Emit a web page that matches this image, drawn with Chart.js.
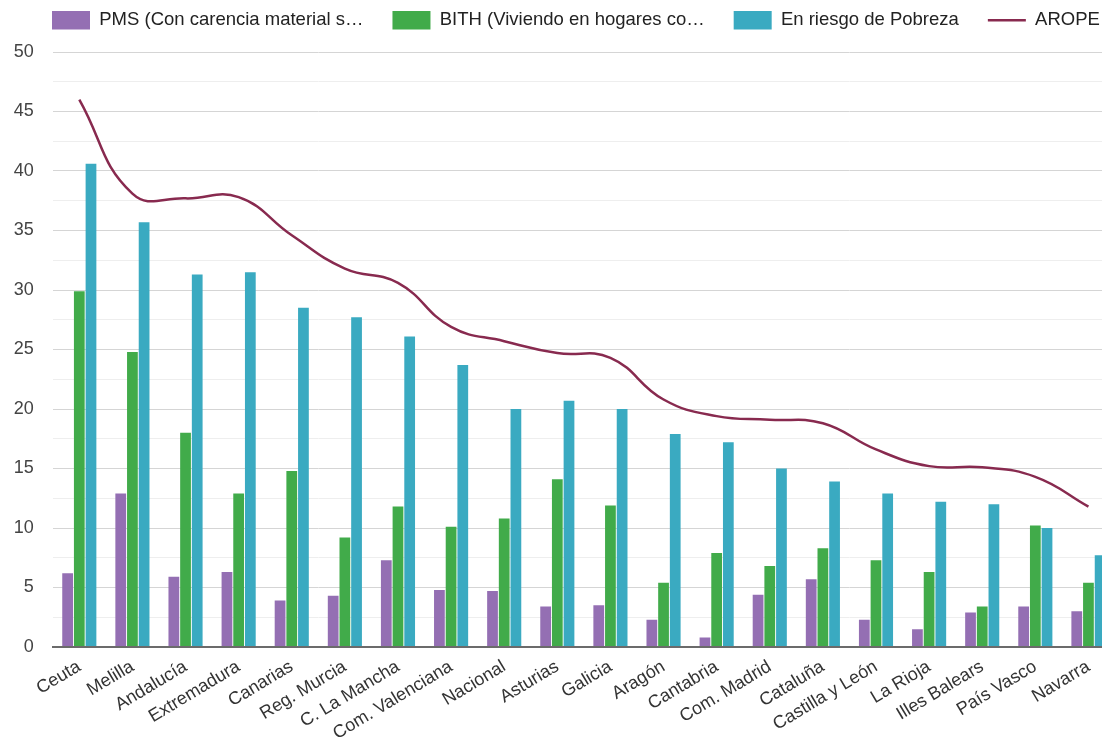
<!DOCTYPE html>
<html>
<head>
<meta charset="utf-8">
<script src="https://cdn.jsdelivr.net/npm/chart.js@4/dist/chart.umd.min.js"></script>
<style>
  html, body { margin: 0; padding: 0; overflow: hidden; background: #fff; }
  #contenedor { width: 1115px; height: 737px; position: relative; }
</style>
</head>
<body>
<div id="contenedor"><canvas id="arope_grafica"></canvas></div>
<script>
const regiones = ['Ceuta', 'Melilla', 'Andalucía', 'Extremadura', 'Canarias', 'Reg. Murcia',
  'C. La Mancha', 'Com. Valenciana', 'Nacional', 'Asturias', 'Galicia', 'Aragón', 'Cantabria',
  'Com. Madrid', 'Cataluña', 'Castilla y León', 'La Rioja', 'Illes Balears', 'País Vasco', 'Navarra'];

const nombres_series = [
  'PMS (Con carencia material severa)',
  'BITH (Viviendo en hogares con baja intensidad en el trabajo)',
  'En riesgo de Pobreza',
  'AROPE'
];

const pms = [6.2, 12.9, 5.9, 6.3, 3.9, 4.3, 7.3, 4.8, 4.7, 3.4, 3.5, 2.3, 0.8, 4.4, 5.7, 2.3, 1.5, 2.9, 3.4, 3.0];
const bith = [29.9, 24.8, 18.0, 12.9, 14.8, 9.2, 11.8, 10.1, 10.8, 14.1, 11.9, 5.4, 7.9, 6.8, 8.3, 7.3, 6.3, 3.4, 10.2, 5.4];
const pobreza = [40.6, 35.7, 31.3, 31.5, 28.5, 27.7, 26.1, 23.7, 20.0, 20.7, 20.0, 17.9, 17.2, 15.0, 13.9, 12.9, 12.2, 12.0, 10.0, 7.7];
const arope = [46.0, 38.1, 37.7, 37.8, 34.6, 31.8, 30.6, 26.9, 25.7, 24.7, 24.3, 20.8, 19.4, 19.1, 18.8, 16.6, 15.2, 15.1, 14.3, 11.8];

const eje_y_max = 50;

Chart.defaults.font.family = "'Liberation Sans', Arial, sans-serif";
Chart.defaults.font.size = 18;
Chart.defaults.color = '#444';

// recorta el texto de la leyenda como en el original
const recortar = t => t.length > 28 ? t.slice(0, 28) + '…' : t;

// leyenda en una sola fila, altura fija y desplazada a la derecha
const ajusteLeyenda = {
  id: 'ajusteLeyenda',
  beforeLayout(chart) {
    const lg = chart.legend;
    if (lg && !lg._ajustada) {
      const fitOriginal = lg.fit;
      lg.fit = function () {
        this.maxWidth = 1400;
        fitOriginal.call(this);
        this.height = 70;
      };
      lg._ajustada = true;
    }
  },
  afterLayout(chart) {
    const lg = chart.legend;
    if (lg) {
      lg.left += 23;
      lg.right += 300;
    }
  }
};

const ctx = document.getElementById('arope_grafica').getContext('2d');

new Chart(ctx, {
  data: {
    labels: regiones,
    datasets: [
      {
        type: 'bar',
        label: nombres_series[0],
        data: pms,
        backgroundColor: '#946fb3',
        borderColor: '#946fb3',
        categoryPercentage: 0.66,
        barPercentage: 0.92
      },
      {
        type: 'bar',
        label: nombres_series[1],
        data: bith,
        backgroundColor: '#41ab4a',
        borderColor: '#41ab4a',
        categoryPercentage: 0.66,
        barPercentage: 0.92
      },
      {
        type: 'bar',
        label: nombres_series[2],
        data: pobreza,
        backgroundColor: '#3aaac1',
        borderColor: '#3aaac1',
        categoryPercentage: 0.66,
        barPercentage: 0.92
      },
      {
        type: 'line',
        label: nombres_series[3],
        data: arope,
        borderColor: '#882a4f',
        backgroundColor: '#882a4f',
        borderWidth: 2.5,
        pointRadius: 0,
        tension: 0.45,
        order: -1
      }
    ]
  },
  options: {
    responsive: true,
    maintainAspectRatio: false,
    animation: false,
    layout: { padding: { top: -18, left: 0, right: 0, bottom: 0 } },
    plugins: {
      tooltip: { enabled: false },
      legend: {
        display: true,
        position: 'top',
        align: 'start',
        labels: {
          usePointStyle: true,
          pointStyleWidth: 38,
          boxHeight: 19,
          padding: 29,
          color: '#222',
          font: { size: 18.5 },
          generateLabels: chart => chart.data.datasets.map((ds, i) => ({
            text: recortar(ds.label),
            fillStyle: ds.type === 'line' ? 'rgba(0,0,0,0)' : ds.backgroundColor,
            strokeStyle: ds.borderColor,
            lineWidth: ds.type === 'line' ? 2.5 : 0,
            pointStyle: ds.type === 'line' ? 'line' : 'rect',
            hidden: !chart.isDatasetVisible(i),
            datasetIndex: i,
            fontColor: '#222'
          }))
        }
      }
    },
    scales: {
      x: {
        grid: { display: false, drawTicks: false },
        border: { display: true, color: '#6b6b6b', width: 2 },
        ticks: {
          color: '#333',
          font: { size: 18 },
          minRotation: 31,
          maxRotation: 31,
          padding: 9,
          autoSkip: false
        },
        afterFit: s => { s.paddingLeft = 0; s.paddingRight = 0; s.height = 90; }
      },
      y: {
        min: 0,
        max: eje_y_max,
        border: { display: false },
        grid: {
          drawTicks: false,
          color: c => c.tick.value === 0 ? '#6b6b6b' : (c.tick.value % 5 === 0 ? '#d5d5d5' : '#eeeeee'),
          lineWidth: c => c.tick.value === 0 ? 2 : 1
        },
        ticks: {
          stepSize: 2.5,
          padding: 19,
          color: '#444',
          font: { size: 18 },
          callback: v => v % 5 === 0 ? v : ''
        },
        afterFit: s => { s.width = 52.75; }
      }
    }
  },
  plugins: [ajusteLeyenda]
});
</script>
</body>
</html>
